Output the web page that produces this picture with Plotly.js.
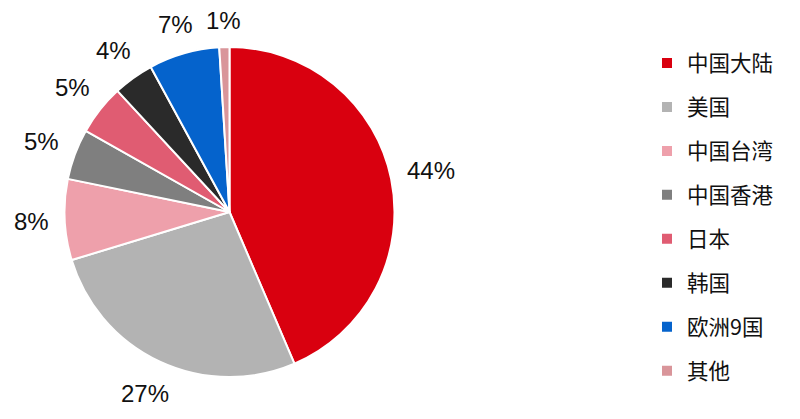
<!DOCTYPE html>
<html>
<head>
<meta charset="utf-8">
<script src="https://cdn.plot.ly/plotly-3.0.1.min.js"></script>
<style>html,body{margin:0;padding:0;background:#fff;}#chart{width:800px;height:419px;}</style>
</head>
<body>
<div id="chart"></div>
<script>
var categories = ["中国大陆", "美国", "中国台湾", "中国香港", "日本", "韩国", "欧洲9国", "其他"];
var shares = [44, 27, 8, 5, 5, 4, 7, 1];
var sliceColors = ["#d9000f", "#b3b3b3", "#eea0ab", "#7f7f7f", "#e05c72", "#2a2a2a", "#0563cc", "#d9959a"];

var W = 800, H = 419;
var pieCx = 229.5, pieCy = 212, pieR = 165;

var legendLabels = categories.map(function (c) {
  return '<span style="font-size:21.5px;baseline-shift:4px">' + c + '</span>';
});

var trace = {
  type: "pie",
  labels: legendLabels,
  values: shares,
  textinfo: "none",
  sort: false,
  direction: "clockwise",
  rotation: 0,
  marker: {colors: sliceColors, line: {color: "#ffffff", width: 2}},
  hoverinfo: "none",
  automargin: false,
  domain: {x: [(pieCx - pieR) / W, (pieCx + pieR) / W], y: [(H - pieCy - pieR) / H, (H - pieCy + pieR) / H]}
};

// outside-end percentage labels, placed at each slice's mid angle
var total = shares.reduce(function (a, b) { return a + b; }, 0);
var annotations = [];
var cum = 0;
shares.forEach(function (v) {
  var mid = (cum + v / 2) / total * 2 * Math.PI;
  cum += v;
  var s = Math.sin(mid), c = Math.cos(mid);
  var txt = v + "%";
  var halfW = String(v).length * 6.7 + 11, halfH = 11;
  var d = pieR + 15 + halfW * Math.abs(s) + halfH * Math.abs(c);
  annotations.push({
    xref: "paper", yref: "paper",
    x: (pieCx + d * s) / W,
    y: (H - (pieCy - d * c)) / H,
    xanchor: "center", yanchor: "middle",
    text: txt, showarrow: false,
    font: {family: "Liberation Sans, Arial, sans-serif", size: 24, color: "#111"}
  });
});

var layout = {
  width: W,
  height: H,
  margin: {l: 0, r: 0, t: 0, b: 0},
  paper_bgcolor: "#ffffff",
  showlegend: true,
  annotations: annotations,
  legend: {
    x: 647 / W,
    xanchor: "left",
    y: 1 - 36 / H,
    yanchor: "top",
    font: {family: "Noto Sans CJK SC, sans-serif", size: 31.5, color: "#111"},
    bgcolor: "rgba(0,0,0,0)"
  }
};

Plotly.newPlot("chart", [trace], layout, {displayModeBar: false, staticPlot: true});
</script>
</body>
</html>
